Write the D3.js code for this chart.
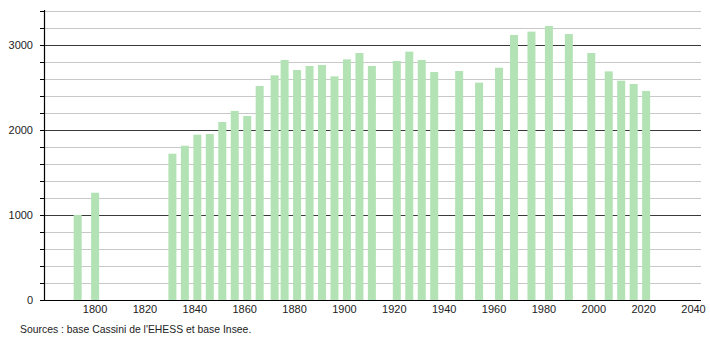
<!DOCTYPE html>
<html>
<head>
<meta charset="utf-8">
<script src="https://cdn.jsdelivr.net/npm/d3@7"></script>
<style>
  body { margin: 0; background: #fff; }
  svg { font-family: "Liberation Sans", Arial, sans-serif; }
</style>
</head>
<body>
<svg id="chart" width="710" height="340"></svg>
<script>
// années de recensement et population
const annees = [1793, 1800, 1831, 1836, 1841, 1846, 1851, 1856, 1861, 1866, 1872, 1876,
  1881, 1886, 1891, 1896, 1901, 1906, 1911, 1921, 1926, 1931, 1936, 1946, 1954,
  1962, 1968, 1975, 1982, 1990, 1999, 2006, 2011, 2016, 2021];
const population = [1000, 1262, 1721, 1815, 1945, 1953, 2094, 2224, 2165, 2518, 2643, 2824,
  2706, 2753, 2765, 2631, 2831, 2906, 2753, 2812, 2922, 2824, 2682, 2694, 2557,
  2733, 3118, 3157, 3224, 3129, 2906, 2690, 2580, 2541, 2459];
const ticksX = [1800, 1820, 1840, 1860, 1880, 1900, 1920, 1940, 1960, 1980, 2000, 2020, 2040];
const ticksY = [0, 1000, 2000, 3000];
const source = "Sources : base Cassini de l'EHESS et base Insee.";

const svg = d3.select("#chart");
const x = d3.scaleLinear().domain([1779.5, 2043]).range([44, 701]);
const y = d3.scaleLinear().domain([0, 3400]).range([300, 11]);

// grille : toutes les 200, plus foncée tous les 1000
const grille = d3.range(200, 3401, 200);
svg.selectAll("line.grille")
  .data(grille)
  .enter()
  .append("line")
  .attr("x1", 40)
  .attr("x2", 701)
  .attr("y1", d => y(d) + 0.5)
  .attr("y2", d => y(d) + 0.5)
  .attr("stroke", d => d % 1000 === 0 ? "#3a3a3a" : "#c8c8c8")
  .attr("stroke-width", 1);

// petits traits à gauche de l'axe
svg.selectAll("line.tick")
  .data(grille)
  .enter()
  .append("line")
  .attr("x1", 40)
  .attr("x2", 44)
  .attr("y1", d => y(d) + 0.5)
  .attr("y2", d => y(d) + 0.5)
  .attr("stroke", "#000");

svg.selectAll("rect")
  .data(annees)
  .enter()
  .append("rect")
  .attr("x", d => x(d) - 4)
  .attr("width", 8)
  .attr("y", (d, i) => y(population[i]))
  .attr("height", (d, i) => y(0) - y(population[i]))
  .attr("fill", "#b3e3b5");

// axes
svg.append("line")
  .attr("x1", 44.5).attr("x2", 44.5)
  .attr("y1", 10).attr("y2", 301)
  .attr("stroke", "#000").attr("stroke-width", 1.2);
svg.append("line")
  .attr("x1", 40).attr("x2", 701)
  .attr("y1", 300.5).attr("y2", 300.5)
  .attr("stroke", "#000").attr("stroke-width", 1.2);

svg.selectAll("text.y")
  .data(ticksY)
  .enter()
  .append("text")
  .attr("x", 33)
  .attr("y", d => y(d) + 4)
  .attr("text-anchor", "end")
  .attr("font-size", "11px")
  .attr("fill", "#222")
  .text(d => d);

svg.selectAll("text.x")
  .data(ticksX)
  .enter()
  .append("text")
  .attr("x", d => x(d))
  .attr("y", 313)
  .attr("text-anchor", "middle")
  .attr("font-size", "11px")
  .attr("fill", "#222")
  .text(d => d);

svg.append("text")
  .attr("x", 20)
  .attr("y", 333)
  .attr("font-size", "10.4px")
  .attr("fill", "#222")
  .text(source);
</script>
</body>
</html>
